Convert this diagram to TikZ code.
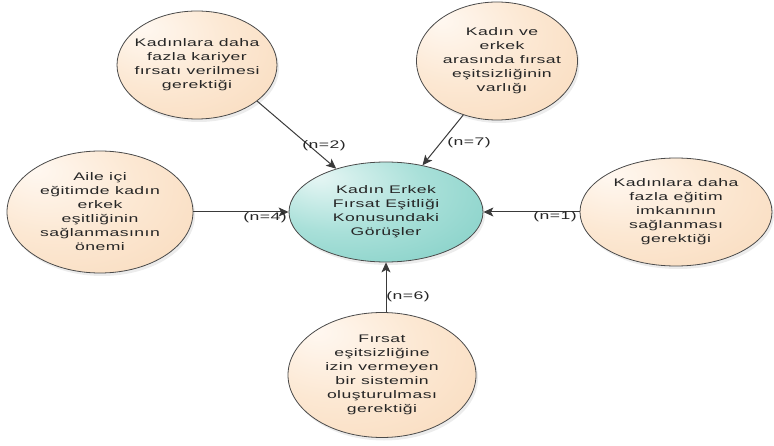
\documentclass[tikz,border=0pt]{standalone}
\usepackage{fontspec}
\newfontfamily\diafont{Liberation Sans}[FakeStretch=1.6,LetterSpace=4]
\usetikzlibrary{arrows.meta, positioning, shapes.geometric, shadows}
\definecolor{peachL}{HTML}{FFF8F1}
\definecolor{peachM}{HTML}{FCE8D3}
\definecolor{peachD}{HTML}{F5CDA6}
\definecolor{tealL}{HTML}{E6F6F4}
\definecolor{tealM}{HTML}{A9E0D9}
\definecolor{tealD}{HTML}{58BDB1}
\definecolor{edgegray}{HTML}{4A4A4A}
\definecolor{arrowgray}{HTML}{3A3A3A}
\pgfdeclareradialshading{peachglow}{\pgfpoint{-18bp}{18bp}}{color(0bp)=(peachL); color(22bp)=(peachM); color(68bp)=(peachD)}
\pgfdeclareradialshading{tealglow}{\pgfpoint{-18bp}{18bp}}{color(0bp)=(tealL); color(22bp)=(tealM); color(68bp)=(tealD)}
\tikzset{
  gorus/.style={ellipse, draw=edgegray, line width=0.8pt, shading=peachglow, inner sep=0pt,
    drop shadow={shadow xshift=2pt, shadow yshift=-3pt, opacity=0.15}},
  merkezstil/.style={gorus, shading=tealglow},
  yazi/.style={font=\diafont\fontsize{11}{14}\selectfont, align=center, text=black!85, inner sep=0pt},
  sayi/.style={font=\diafont\fontsize{11}{13}\selectfont, text=black!85, inner sep=1pt},
  ok/.style={draw=arrowgray, line width=1pt, -{Stealth[length=10pt,width=9pt,inset=2.5pt]}}
}
\begin{document}
\begin{tikzpicture}[x=1pt, y=-1pt]
        \useasboundingbox (0,0) rectangle (774,446);
        
        % Merkez: görüşler
        \node[merkezstil, minimum width=194pt, minimum height=100pt] (merkez) at (386,212) {};
        \node[yazi] (merkezyazi) at (merkez) {Kadın Erkek\\Fırsat Eşitliği\\Konusundaki\\Görüşler};
        
        % Çevredeki görüşler
        \node[gorus, minimum width=160pt, minimum height=108pt] (kariyer) at (197,65) {};
        \node[yazi] (kariyeryazi) at (kariyer) {Kadınlara daha\\fazla kariyer\\fırsatı verilmesi\\gerektiği};
        
        \node[gorus, minimum width=161pt, minimum height=118pt] (varlik) at (497,61) {};
        \node[yazi] (varlikyazi) at ([xshift=5pt]varlik.center) {Kadın ve\\erkek\\arasında fırsat\\eşitsizliğinin\\varlığı};
        
        \node[gorus, minimum width=186pt, minimum height=122pt] (aile) at (100,212) {};
        \node[yazi] (aileyazi) at (aile) {Aile içi\\eğitimde kadın\\erkek\\eşitliğinin\\sağlanmasının\\önemi};
        
        \node[gorus, minimum width=192pt, minimum height=108pt] (egitim) at (676,212) {};
        \node[yazi] (egitimyazi) at (egitim) {Kadınlara daha\\fazla eğitim\\imkanının\\sağlanması\\gerektiği};
        
        \node[gorus, minimum width=188pt, minimum height=125pt] (sistem) at (382,375) {};
        \node[yazi] (sistemyazi) at (sistem) {Fırsat\\eşitsizliğine\\izin vermeyen\\bir sistemin\\oluşturulması\\gerektiği};
        
        % Oklar
        \draw[ok] (kariyer.-31) -- (merkez.139);
        \draw[ok] (varlik.-122) -- (merkez.52);
        \draw[ok] (aile.east) -- (merkez.west);
        \draw[ok] (egitim.west) -- (merkez.east);
        \draw[ok] (merkez.south |- sistem.north) -- (merkez.south);
        
        % Sayılar
        \node[sayi] (n2) at (324,146) {(n=2)};
        \node[sayi] (n7) at (469,143) {(n=7)};
        \node[sayi] (n4) at (265,218) {(n=4)};
        \node[sayi] (n1) at (555,217) {(n=1)};
        \node[sayi] (n6) at (408,297) {(n=6)};
    \end{tikzpicture}
\end{document}
